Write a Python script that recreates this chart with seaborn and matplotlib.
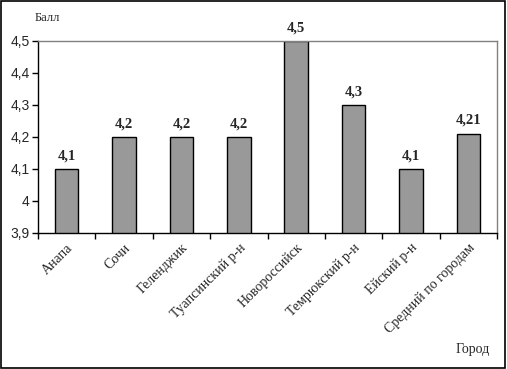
import numpy as np
import pandas as pd
import seaborn as sns
import matplotlib.pyplot as plt
from matplotlib.ticker import FixedLocator

# Data
cities = ['Анапа', 'Сочи', 'Геленджик', 'Туапсинский р-н', 'Новороссийск',
          'Темрюкский р-н', 'Ейский р-н', 'Средний по городам']
scores = [4.1, 4.2, 4.2, 4.2, 4.5, 4.3, 4.1, 4.21]
score_labels = ['4,1', '4,2', '4,2', '4,2', '4,5', '4,3', '4,1', '4,21']
yticks = [3.9, 4.0, 4.1, 4.2, 4.3, 4.4, 4.5]
ytick_labels = ['3,9', '4', '4,1', '4,2', '4,3', '4,4', '4,5']

df = pd.DataFrame({'Город': cities, 'Балл': scores})

sns.set_style('white')
plt.rcParams['font.family'] = ['Liberation Serif', 'DejaVu Serif']

fig = plt.figure(figsize=(5.07, 3.69), dpi=100)
ax = fig.add_axes([38 / 507, 1 - 233 / 369, (497 - 38) / 507, (233 - 41) / 369])

sns.barplot(data=df, x='Город', y='Балл', color='#999999', edgecolor='black',
            linewidth=1, width=0.41, saturation=1, ax=ax)

ax.set_ylim(3.9, 4.5)
ax.set_xlim(-0.5, len(cities) - 0.5)
ax.set_yticks(yticks)
ax.set_yticklabels(ytick_labels, family='Liberation Sans', fontsize=10)
ax.set_xticks(range(len(cities)))
ax.set_xticklabels(cities, rotation=45, ha='right', rotation_mode='anchor', fontsize=10)
ax.tick_params(axis='x', length=0, pad=6)
ax.tick_params(axis='y', length=4, width=1, color='black', direction='out', left=True, pad=2)
ax.xaxis.set_minor_locator(FixedLocator(np.arange(-0.5, len(cities), 1.0)))
ax.tick_params(axis='x', which='minor', length=4, width=1, color='black', bottom=True)
ax.set_xlabel('')
ax.set_ylabel('')

for side in ['top', 'right']:
    ax.spines[side].set_color('#808080')
    ax.spines[side].set_linewidth(1)
for side in ['left', 'bottom']:
    ax.spines[side].set_color('black')
    ax.spines[side].set_linewidth(1)

for i, (v, lab) in enumerate(zip(scores, score_labels)):
    ax.annotate(lab, (i, v), xytext=(0, 5), textcoords='offset points',
                ha='center', va='bottom', fontsize=10.5, fontweight='bold',
                annotation_clip=False)

fig.text(35 / 507, 1 - 18 / 369, 'Балл', fontsize=9, va='center', ha='left')
fig.text(490 / 507, 1 - 350 / 369, 'Город', fontsize=10, va='center', ha='right')

# black frame around the whole picture
fig.patches.append(plt.Rectangle((0.002, 0.003), 0.995, 0.994, transform=fig.transFigure,
                                 fill=False, edgecolor='black', linewidth=1.2))

fig.savefig('out.png', dpi=100)
